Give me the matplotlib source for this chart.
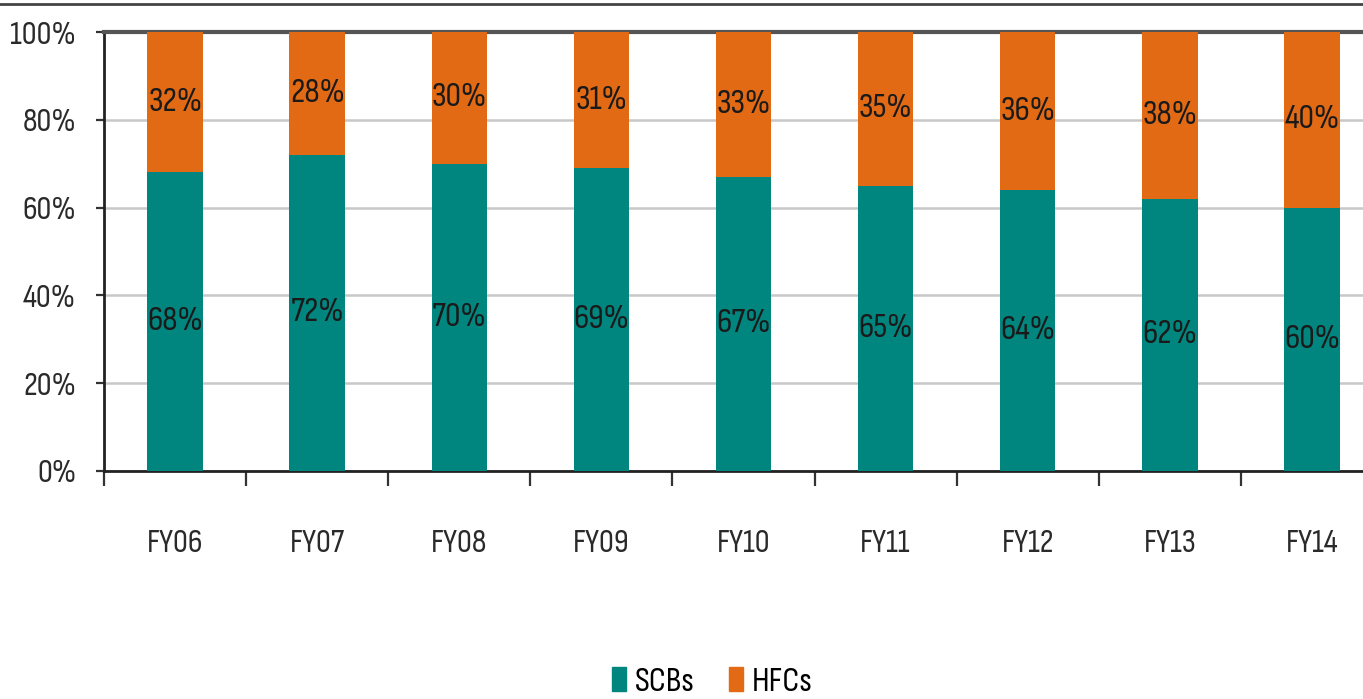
import matplotlib.pyplot as plt
import numpy as np
from matplotlib.lines import Line2D
from matplotlib.patches import Patch

years = ["FY06", "FY07", "FY08", "FY09", "FY10", "FY11", "FY12", "FY13", "FY14"]
scbs = [68, 72, 70, 69, 67, 65, 64, 62, 60]
hfcs = [32, 28, 30, 31, 33, 35, 36, 38, 40]

TEAL = "#00867f"
ORANGE = "#e36a14"
FS = 25

plt.rcParams["font.family"] = ["Sofia Sans Condensed", "DejaVu Sans"]

fig = plt.figure(figsize=(13.63, 6.99), dpi=100)
ax = fig.add_axes([104 / 1363, 1 - 471 / 699, 1279 / 1363, 439 / 699])

x = np.arange(len(years))
w = 0.39
ax.bar(x, scbs, width=w, color=TEAL, zorder=3, label="SCBs")
ax.bar(x, hfcs, width=w, bottom=scbs, color=ORANGE, zorder=3, label="HFCs")

# value labels centred in each segment
for i in range(len(years)):
    ax.text(x[i], scbs[i] / 2, f"{scbs[i]}%", ha="center", va="center",
            fontsize=FS, color="#1a1a1a", zorder=4)
    ax.text(x[i], scbs[i] + hfcs[i] / 2, f"{hfcs[i]}%", ha="center", va="center",
            fontsize=FS, color="#1a1a1a", zorder=4)

ax.set_xlim(-0.5, len(years) - 0.5)
ax.set_ylim(0, 100)
ax.set_yticks([0, 20, 40, 60, 80, 100])
ax.set_yticklabels([f"{v}%" for v in [0, 20, 40, 60, 80, 100]], fontsize=24, color="#2a2a2a")
ax.set_xticks(x)
ax.set_xticklabels(years, fontsize=24, color="#2a2a2a")
ax.set_xticks(np.arange(-0.5, len(years), 1), minor=True)
ax.tick_params(axis="x", which="major", length=0, pad=42)
ax.tick_params(axis="x", which="minor", length=11, width=1.6, direction="out", color="#333333")
ax.tick_params(axis="y", length=6, width=1.6, pad=14, color="#333333")

ax.grid(True, axis="y", color="#c8c8c8", linewidth=1.8, zorder=0)
ax.set_axisbelow(True)
for s in ["left", "bottom"]:
    ax.spines[s].set_color("#222222")
    ax.spines[s].set_linewidth(2.0)
ax.spines["top"].set_color("#555555")
ax.spines["top"].set_linewidth(3.0)
ax.spines["right"].set_visible(False)

# thin border line along the very top of the picture
fig.add_artist(Line2D([0, 1], [1 - 4 / 699, 1 - 4 / 699], color="#444444", linewidth=2.0))

handles = [Patch(color=TEAL, label="SCBs"), Patch(color=ORANGE, label="HFCs")]
fig.legend(handles=handles, loc="center", bbox_to_anchor=(712 / 1363, 1 - 682 / 699),
           ncol=2, frameon=False, fontsize=FS, handlelength=0.4, handleheight=0.7,
           handletextpad=0.25, columnspacing=1.0)

fig.savefig("out.png", dpi=100)
